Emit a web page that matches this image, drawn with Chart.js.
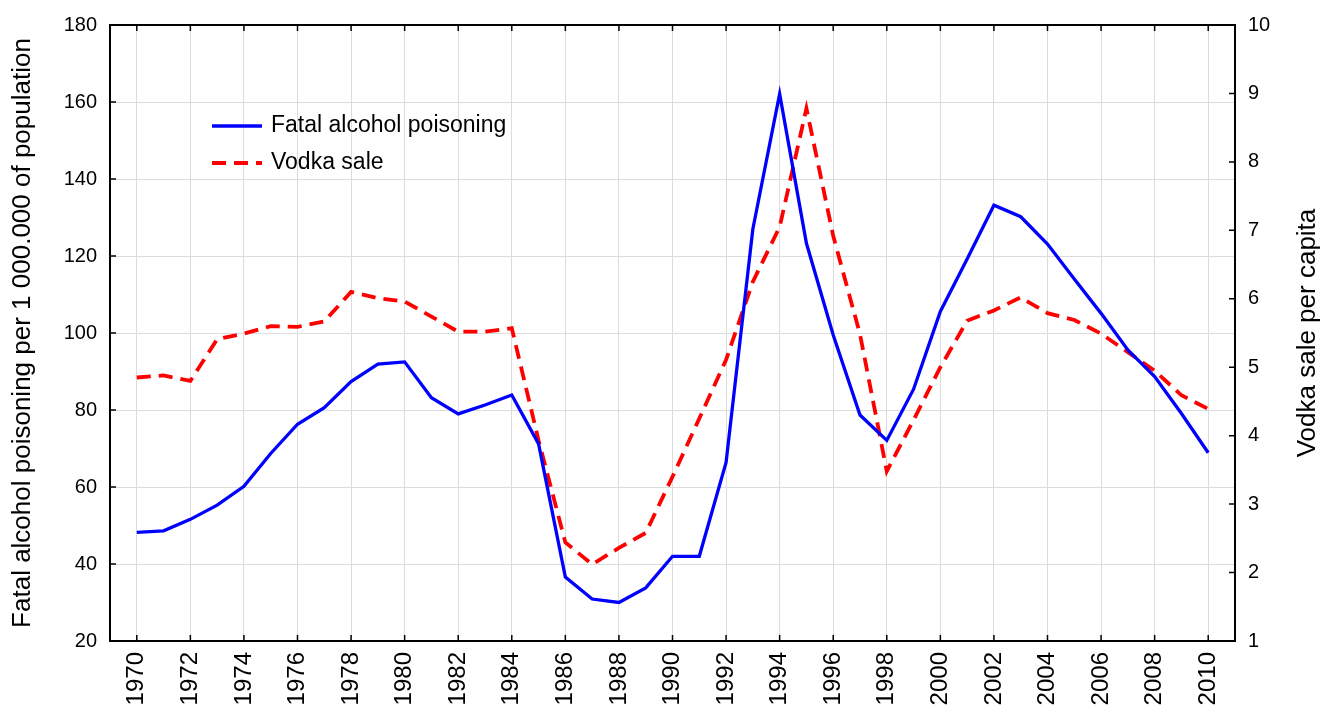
<!DOCTYPE html>
<html>
<head>
<meta charset="utf-8">
<script src="https://cdn.jsdelivr.net/npm/chart.js@4.4.1/dist/chart.umd.min.js"></script>
<style>
  html, body { margin: 0; padding: 0; background: #ffffff; }
  #wrap { width: 1323px; height: 713px; }
</style>
</head>
<body>
<div id="wrap"><canvas id="c" width="1323" height="713"></canvas></div>
<script>
const years = [1970,1971,1972,1973,1974,1975,1976,1977,1978,1979,1980,1981,1982,1983,1984,1985,1986,1987,1988,1989,1990,1991,1992,1993,1994,1995,1996,1997,1998,1999,2000,2001,2002,2003,2004,2005,2006,2007,2008,2009,2010];
const poisoning = [48.2,48.6,51.6,55.3,60.2,68.7,76.3,80.6,87.4,91.9,92.5,83.2,79.0,81.3,83.9,71.2,36.6,30.9,30.0,33.8,42.0,42.0,66.4,127.0,162.1,123.3,99.5,78.7,72.1,85.4,105.6,119.2,133.2,130.2,123.1,114.0,105.1,95.6,88.7,79.1,68.9];
const vodka = [4.85,4.88,4.80,5.41,5.49,5.60,5.59,5.67,6.10,6.01,5.96,5.74,5.52,5.52,5.57,3.93,2.44,2.12,2.36,2.58,3.40,4.25,5.11,6.25,7.05,8.78,6.92,5.48,3.48,4.23,5.00,5.68,5.83,6.02,5.79,5.69,5.49,5.22,4.95,4.59,4.39];
const xTickYears = [1970,1972,1974,1976,1978,1980,1982,1984,1986,1988,1990,1992,1994,1996,1998,2000,2002,2004,2006,2008,2010];
const leftTicks = [20,40,60,80,100,120,140,160,180];
const rightTicks = [1,2,3,4,5,6,7,8,9,10];
const seriesNames = ['Fatal alcohol poisoning', 'Vodka sale'];
const leftTitle = 'Fatal alcohol poisoning per 1 000.000 of population';
const rightTitle = 'Vodka sale per capita';

const FONT = '"Liberation Sans", Arial, sans-serif';

// use a narrow face for the vertical-axis numbers if it is installed
function hasFont(name) {
  const c = document.createElement('canvas').getContext('2d');
  const s = 'mmmmmmmmmmlli1234567890';
  c.font = '40px monospace';
  const w0 = c.measureText(s).width;
  c.font = '40px "' + name + '", monospace';
  return Math.abs(c.measureText(s).width - w0) > 0.5;
}
const NARROW = hasFont('Liberation Sans Narrow');
const YTICK_FONT = NARROW
  ? { family: '"Liberation Sans Narrow", ' + FONT, size: 23 }
  : { family: FONT, size: 20 };

const frame = {
  id: 'frame',
  afterDraw(chart) {
    const ctx = chart.ctx;
    const a = chart.chartArea;
    const x = chart.scales.x, yl = chart.scales.y, yr = chart.scales.y1;
    ctx.save();
    ctx.strokeStyle = '#000';
    ctx.lineWidth = 2;
    ctx.beginPath();
    ctx.moveTo(a.left - 1, a.top);
    ctx.lineTo(a.right + 1, a.top);
    ctx.stroke();
    ctx.lineWidth = 1.5;
    ctx.beginPath();
    x.ticks.forEach(t => {
      const px = x.getPixelForValue(t.value);
      ctx.moveTo(px, a.bottom); ctx.lineTo(px, a.bottom - 6);
      ctx.moveTo(px, a.top); ctx.lineTo(px, a.top + 6);
    });
    yl.ticks.forEach(t => {
      const py = yl.getPixelForValue(t.value);
      ctx.moveTo(a.left, py); ctx.lineTo(a.left + 6, py);
    });
    yr.ticks.forEach(t => {
      const py = yr.getPixelForValue(t.value);
      ctx.moveTo(a.right, py); ctx.lineTo(a.right - 6, py);
    });
    ctx.stroke();

    ctx.fillStyle = '#000';
    ctx.font = '26px ' + FONT;
    ctx.textAlign = 'center';
    ctx.textBaseline = 'middle';
    ctx.translate(1308, (a.top + a.bottom) / 2);
    ctx.rotate(-Math.PI / 2);
    ctx.fillText(rightTitle, 0, 0);
    ctx.restore();

    ctx.save();
    ctx.font = '23px ' + FONT;
    ctx.textAlign = 'left';
    ctx.textBaseline = 'middle';
    const lx = 212, ly = 126, gap = 37;
    chart.data.datasets.forEach((ds, i) => {
      const yy = ly + i * gap;
      ctx.strokeStyle = ds.borderColor;
      ctx.lineWidth = ds.borderWidth;
      ctx.setLineDash(ds.borderDash || []);
      ctx.beginPath();
      ctx.moveTo(lx, yy);
      ctx.lineTo(lx + 50, yy);
      ctx.stroke();
      ctx.setLineDash([]);
      ctx.fillStyle = '#000';
      ctx.fillText(ds.label, lx + 59, yy);
    });
    ctx.restore();
  }
};

new Chart(document.getElementById('c'), {
  type: 'line',
  data: {
    datasets: [
      {
        label: seriesNames[0],
        data: years.map((y, i) => ({ x: y, y: poisoning[i] })),
        yAxisID: 'y',
        borderColor: '#0000ff',
        borderWidth: 3.3,
        pointRadius: 0,
        tension: 0,
        fill: false
      },
      {
        label: seriesNames[1],
        data: years.map((y, i) => ({ x: y, y: vodka[i] })),
        yAxisID: 'y1',
        borderColor: '#ff0000',
        borderWidth: 3.8,
        borderDash: [14, 8],
        pointRadius: 0,
        tension: 0,
        fill: false
      }
    ]
  },
  options: {
    responsive: false,
    animation: false,
    layout: { padding: { top: 25, left: 0, right: 0, bottom: 0 } },
    plugins: {
      legend: { display: false },
      tooltip: { enabled: false }
    },
    scales: {
      x: {
        type: 'linear',
        min: 1969,
        max: 2011,
        afterBuildTicks: s => { s.ticks = xTickYears.map(v => ({ value: v })); },
        afterFit: s => { s.height = 72; },
        grid: { color: '#dcdcdc', lineWidth: 1, drawTicks: false },
        border: { display: true, color: '#000', width: 2 },
        ticks: {
          autoSkip: false,
          minRotation: 90,
          maxRotation: 90,
          padding: 11,
          color: '#000',
          font: { family: FONT, size: 24 },
          callback: v => String(v)
        }
      },
      y: {
        type: 'linear',
        position: 'left',
        min: 20,
        max: 180,
        afterBuildTicks: s => { s.ticks = leftTicks.map(v => ({ value: v })); },
        afterFit: s => { s.width = 110; },
        grid: { color: '#dcdcdc', lineWidth: 1, drawTicks: false },
        border: { display: true, color: '#000', width: 2 },
        ticks: {
          padding: 13,
          color: '#000',
          font: YTICK_FONT
        },
        title: {
          display: true,
          text: leftTitle,
          color: '#000',
          font: { family: FONT, size: 26, lineHeight: 1 },
          padding: { top: 10, bottom: 0 }
        }
      },
      y1: {
        type: 'linear',
        position: 'right',
        min: 1,
        max: 10,
        afterBuildTicks: s => { s.ticks = rightTicks.map(v => ({ value: v })); },
        afterFit: s => { s.width = 88; },
        grid: { display: false, drawTicks: false },
        border: { display: true, color: '#000', width: 2 },
        ticks: {
          padding: 13,
          color: '#000',
          font: YTICK_FONT
        }
      }
    }
  },
  plugins: [frame]
});
</script>
</body>
</html>
